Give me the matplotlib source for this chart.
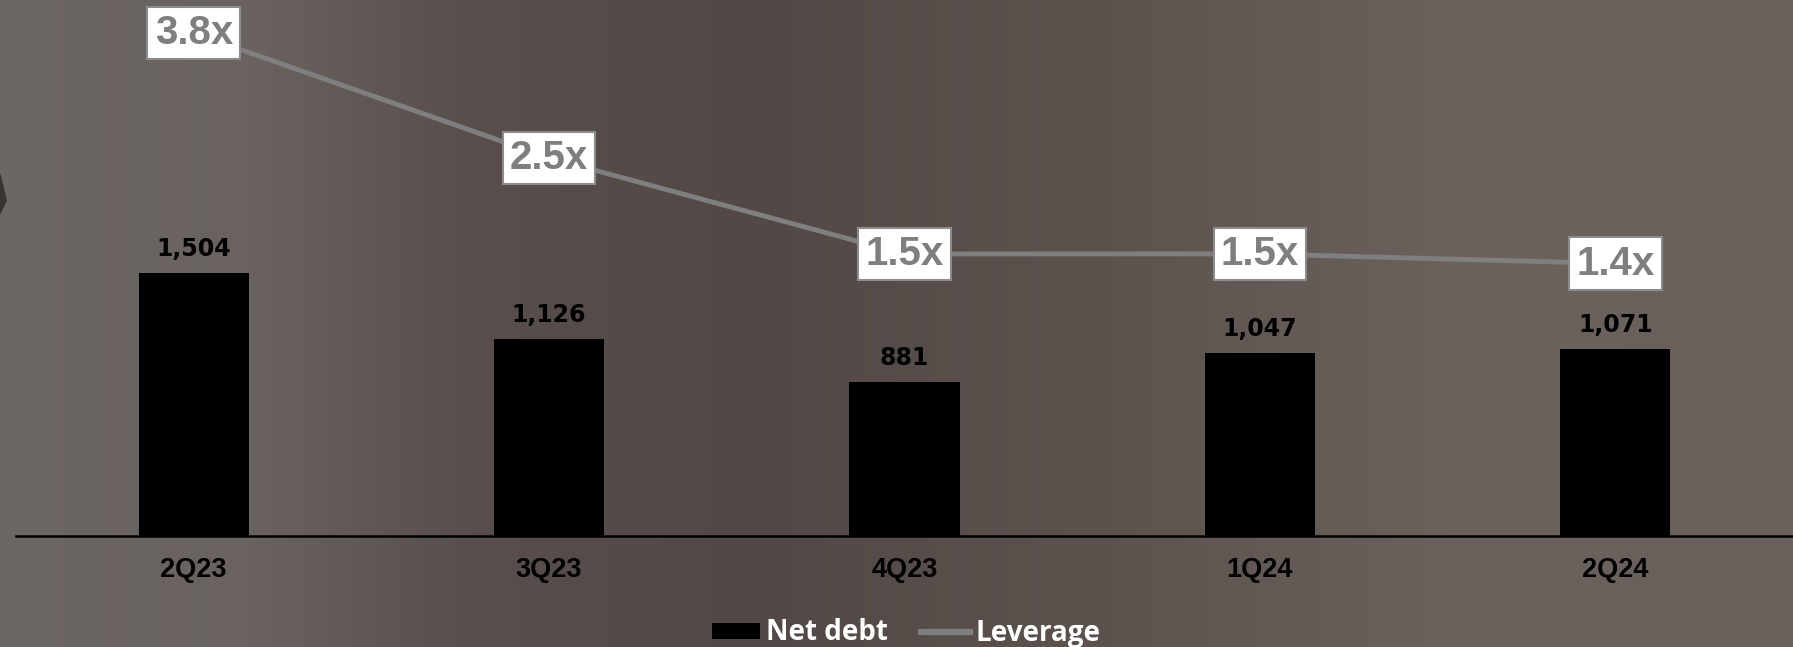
import numpy as np
import matplotlib.pyplot as plt
from matplotlib.colors import LinearSegmentedColormap
from matplotlib.font_manager import FontProperties
from matplotlib.patches import Polygon, Patch
from matplotlib.lines import Line2D

# data
quarters = ["2Q23", "3Q23", "4Q23", "1Q24", "2Q24"]
net_debt = [1504, 1126, 881, 1047, 1071]
leverage = [3.8, 2.5, 1.5, 1.5, 1.4]

W, H, DPI = 1793, 647, 100
fig = plt.figure(figsize=(W / DPI, H / DPI), dpi=DPI)

value_font = FontProperties(family="DejaVu Sans", weight="bold", size=17)
tick_font = FontProperties(family="Liberation Sans", weight="bold", size=19.5)
lev_font = FontProperties(family="Liberation Sans", weight="bold", size=29)
legend_font = FontProperties(family="Open Sans", weight="bold", size=20)

# background: brownish grey horizontal gradient
bg = fig.add_axes([0, 0, 1, 1])
bg_cmap = LinearSegmentedColormap.from_list("bg", [
    (0.00, (109/255, 103/255, 99/255)),
    (0.14, (105/255, 98/255, 94/255)),
    (0.26, (88/255, 79/255, 76/255)),
    (0.42, (82/255, 72/255, 69/255)),
    (0.62, (92/255, 82/255, 78/255)),
    (0.82, (108/255, 98/255, 93/255)),
    (1.00, (106/255, 96/255, 91/255)),
])
bg.imshow(np.linspace(0, 1, 512)[None, :], cmap=bg_cmap, aspect="auto",
          extent=(0, 1, 0, 1), interpolation="bicubic")
bg.add_patch(Polygon([(0, 0.73), (0.0035, 0.69), (0, 0.67)],
                     closed=True, color="#3a3431", transform=bg.transAxes))
bg.set_xlim(0, 1)
bg.set_ylim(0, 1)
bg.axis("off")

# main axes, placed so the baseline sits where it does in the original
ax = fig.add_axes([16 / W, (H - 536) / H, (W - 16) / W, 536 / H])
ax.set_facecolor("none")
x = np.arange(len(quarters))

ax.bar(x, net_debt, width=0.31, color="black", zorder=2)
for xi, v in zip(x, net_debt):
    ax.annotate(f"{v:,}", (xi, v), xytext=(0, 17), textcoords="offset points",
                ha="center", va="center", fontproperties=value_font,
                color="black")

ax.set_xlim(-0.5, 4.5)
ax.set_ylim(0, 3065)
ax.set_xticks(x)
ax.set_xticklabels(quarters, fontproperties=tick_font, color="black")
ax.tick_params(axis="x", length=0, pad=15)
ax.set_yticks([])
for s in ["top", "right", "left"]:
    ax.spines[s].set_visible(False)
ax.spines["bottom"].set_color("black")
ax.spines["bottom"].set_linewidth(1.8)

# leverage on its own scale
ax2 = ax.twinx()
ax2.plot(x, leverage, color="#7f7f7f", lw=3.5, zorder=3,
         solid_capstyle="butt")
for xi, v in zip(x, leverage):
    ax2.text(xi, v, f"{v:.1f}x", ha="center", va="center",
             fontproperties=lev_font, color="#7f7f7f", zorder=4,
             bbox=dict(boxstyle="square,pad=0.18", facecolor="white",
                       edgecolor="#8c8c8c", linewidth=1.5))
ax2.set_ylim(-1.437, 4.144)
ax2.set_yticks([])
for s in ax2.spines.values():
    s.set_visible(False)

handles = [Patch(facecolor="black", edgecolor="none", label="Net debt"),
           Line2D([], [], color="#7f7f7f", lw=4.5, label="Leverage")]
fig.legend(handles=handles, loc="center", bbox_to_anchor=(906 / W, 1 - 633 / H),
           ncol=2, frameon=False, handlelength=1.75, handleheight=0.5,
           handletextpad=0.2, columnspacing=1.2, prop=legend_font,
           labelcolor="white")

fig.savefig("out.png", dpi=DPI)
